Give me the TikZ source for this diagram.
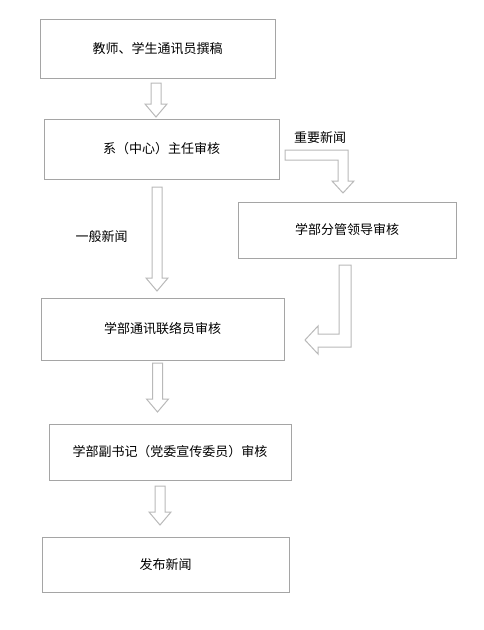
\documentclass[tikz,border=0pt]{standalone}
\usepackage{fontspec}
\setmainfont{Noto Sans CJK SC}
\usetikzlibrary{positioning}
\definecolor{boxgray}{RGB}{165,165,165}
\definecolor{arrowgray}{RGB}{185,185,185}
% hollow block arrow pointing down: x, top, tip
\newcommand{\blockdown}[3]{%
\draw[arrowline] (#1-5,#2) -- (#1+5,#2) -- (#1+5,#3-13) -- (#1+11,#3-13)
  -- (#1,#3) -- (#1-11,#3-13) -- (#1-5,#3-13) -- cycle;}
\begin{document}
\begin{tikzpicture}[x=1pt,y=-1pt,
stage/.style={rectangle,draw=boxgray,line width=1pt,inner sep=0pt,
  font=\fontsize{13}{15}\selectfont},
arrowline/.style={draw=arrowgray,line width=1pt,fill=white,line join=miter},
tag/.style={inner sep=0pt,font=\fontsize{13}{15}\selectfont}]
\useasboundingbox (0,0) rectangle (484,630);
\node[stage,minimum width=235pt,minimum height=59pt] (draft) at (157.5,48.5) {教师、学生通讯员撰稿};
\node[stage,minimum width=235pt,minimum height=60pt] (dept) at (161.5,149) {系（中心）主任审核};
\node[stage,minimum width=218pt,minimum height=56pt] (lead) at (347,230) {学部分管领导审核};
\node[stage,minimum width=243pt,minimum height=62pt] (liaison) at (162.5,329) {学部通讯联络员审核};
\node[stage,minimum width=242pt,minimum height=56pt] (secretary) at (170,452) {学部副书记（党委宣传委员）审核};
\node[stage,minimum width=247pt,minimum height=55pt] (publish) at (165.5,564.5) {发布新闻};

\blockdown{156}{83}{117}
\blockdown{157}{187}{291}
\blockdown{157.5}{363}{412}
\blockdown{160}{486}{525}

% bent arrows round the side branch
\draw[arrowline] (285,150) -- (348,150) -- (348,181) -- (354,181) -- (343,193)
  -- (332,181) -- (338,181) -- (338,160) -- (285,160) -- cycle;
\draw[arrowline] (339,265) -- (351,265) -- (351,347) -- (318,347) -- (318,354)
  -- (305,340) -- (318,326) -- (318,334) -- (339,334) -- cycle;

\node[tag] (important) at (320,138) {重要新闻};
\node[tag] (ordinary) at (101.5,237) {一般新闻};
\end{tikzpicture}
\end{document}
